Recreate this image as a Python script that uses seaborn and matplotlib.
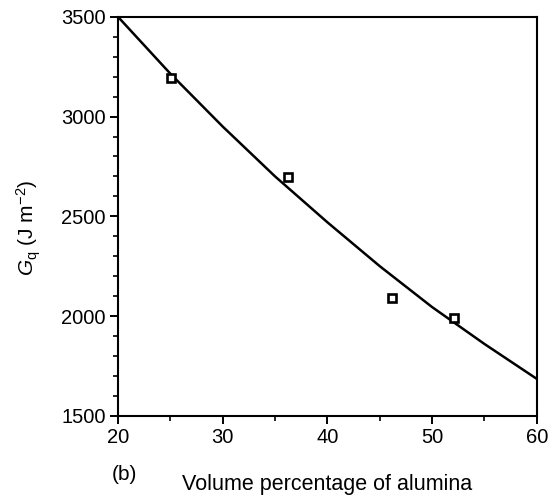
import matplotlib
matplotlib.use("Agg")
import matplotlib.pyplot as plt
from matplotlib.ticker import MultipleLocator
import seaborn as sns
import pandas as pd

# Model curve: fracture energy vs. alumina volume fraction
curve_vol = [20, 25, 30, 35, 40, 45, 50, 55, 60]
curve_gq = [3500, 3215, 2950, 2700, 2470, 2250, 2045, 1860, 1685]

# Measured values
meas_vol = [25.1, 36.2, 46.2, 52.1]
meas_gq = [3195, 2695, 2090, 1990]

sns.set_theme(style="white")
plt.rcParams["font.family"] = ["Liberation Sans", "DejaVu Sans"]
plt.rcParams["mathtext.fontset"] = "custom"
plt.rcParams["mathtext.rm"] = "Liberation Sans"
plt.rcParams["mathtext.it"] = "Liberation Sans:italic"

fig = plt.figure(figsize=(5.54, 4.95), dpi=100)
ax = fig.add_axes([0.213, 0.160, 0.756, 0.806])

curve = pd.DataFrame({"vol": curve_vol, "gq": curve_gq})
meas = pd.DataFrame({"vol": meas_vol, "gq": meas_gq})

sns.lineplot(data=curve, x="vol", y="gq", ax=ax, color="black", linewidth=1.8)
ax.plot(meas["vol"], meas["gq"], linestyle="none", marker="s", markersize=5.5,
        markerfacecolor="white", markeredgecolor="black", markeredgewidth=1.9)

ax.set_xlim(20, 60)
ax.set_ylim(1500, 3500)
ax.xaxis.set_major_locator(MultipleLocator(10))
ax.xaxis.set_minor_locator(MultipleLocator(5))
ax.yaxis.set_major_locator(MultipleLocator(500))
ax.yaxis.set_minor_locator(MultipleLocator(100))

ax.tick_params(axis="both", which="major", direction="out", length=6, width=1.4,
               labelsize=14.5, color="black", labelcolor="black", pad=3)
ax.tick_params(axis="both", which="minor", direction="out", length=3.5, width=1.2,
               color="black")
ax.tick_params(axis="x", bottom=True, which="both")
ax.tick_params(axis="y", left=True, which="both")

for s in ax.spines.values():
    s.set_color("black")
    s.set_linewidth(1.5)

ax.set_xlabel("Volume percentage of alumina", fontsize=15.5, color="black", labelpad=19)
ax.set_ylabel(r"$G_\mathrm{q}$ (J m$^{-2}$)", fontsize=15, color="black")
ax.yaxis.set_label_coords(-0.178, 0.47)
fig.text(0.224, 0.030, "(b)", fontsize=15, color="black", ha="center")

fig.savefig("out.png", dpi=100)
